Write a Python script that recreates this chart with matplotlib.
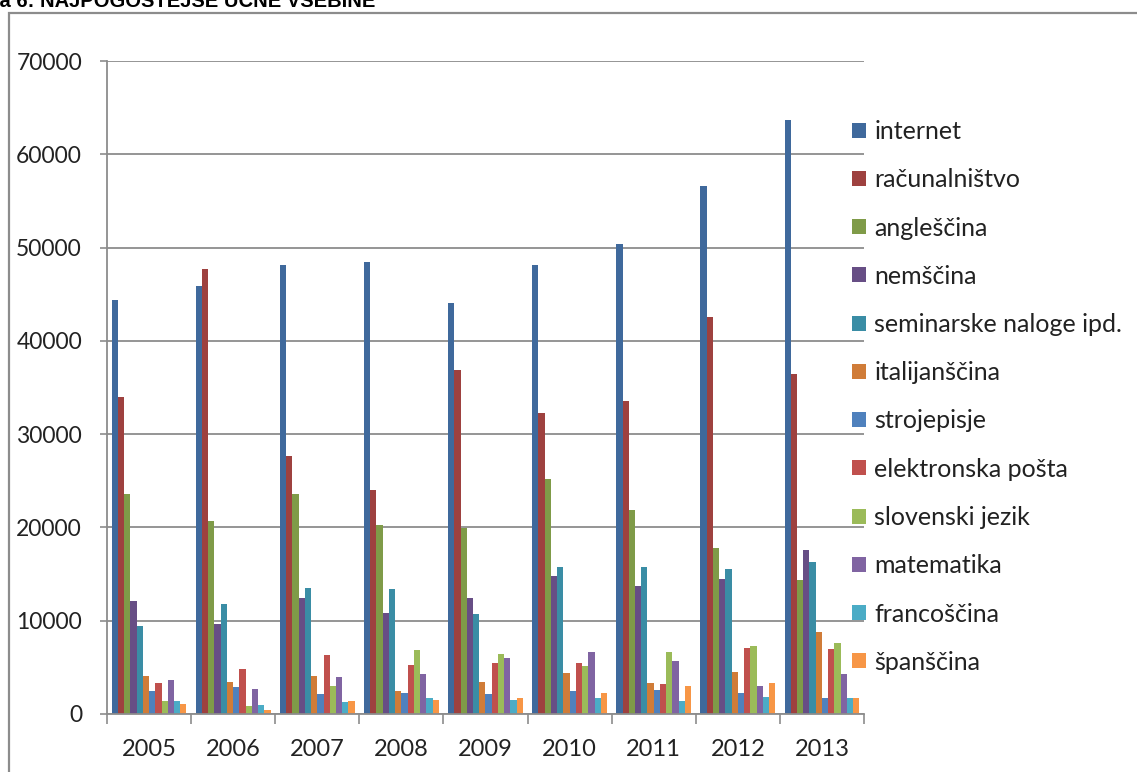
import matplotlib.pyplot as plt
import numpy as np
from matplotlib.patches import Rectangle

years = ["2005", "2006", "2007", "2008", "2009", "2010", "2011", "2012", "2013"]

internet = [44400, 45900, 48100, 48500, 44100, 48100, 50400, 56600, 63700]
racunalnistvo = [34000, 47700, 27700, 24000, 36900, 32300, 33600, 42600, 36500]
anglescina = [23600, 20700, 23600, 20300, 19900, 25200, 21900, 17800, 14400]
nemscina = [12100, 9600, 12400, 10800, 12400, 14800, 13700, 14500, 17600]
seminarske = [9400, 11800, 13500, 13400, 10700, 15800, 15800, 15500, 16300]
italijanscina = [4100, 3400, 4100, 2500, 3400, 4400, 3300, 4500, 8800]
strojepisje = [2500, 2900, 2100, 2300, 2100, 2500, 2600, 2200, 1700]
elektronska = [3300, 4800, 6300, 5200, 5500, 5500, 3200, 7100, 7000]
slovenski = [1400, 850, 3000, 6900, 6400, 5100, 6600, 7300, 7600]
matematika = [3600, 2700, 4000, 4300, 6000, 6600, 5700, 3000, 4300]
francoscina = [1400, 1000, 1250, 1700, 1500, 1700, 1400, 1800, 1700]
spanscina = [1100, 450, 1400, 1500, 1700, 2200, 3000, 3300, 1700]

labels = ["internet", "računalništvo", "angleščina", "nemščina",
          "seminarske naloge ipd.", "italijanščina", "strojepisje",
          "elektronska pošta", "slovenski jezik", "matematika",
          "francoščina", "španščina"]
series = [internet, racunalnistvo, anglescina, nemscina, seminarske,
          italijanscina, strojepisje, elektronska, slovenski, matematika,
          francoscina, spanscina]
colors = ["#3F699C", "#9E413F", "#7F9B48", "#674E85", "#3A8DA5", "#D07C38",
          "#4F81BD", "#C0504D", "#9BBB59", "#8064A2", "#4BACC6", "#F79646"]

W, H = 1137, 772
fig = plt.figure(figsize=(W / 100, H / 100), dpi=100)
fig.patch.set_facecolor("white")

# chart frame (cut off at right and bottom)
frame = Rectangle((9 / W, -0.1), 1.2, (H - 13) / H + 0.1, transform=fig.transFigure,
                  fill=False, edgecolor="#8c8c8c", linewidth=1.6)
fig.add_artist(frame)

# title, cut off at the top like in the source
fig.text(375 / W, (H - 7) / H, "Slika 6: NAJPOGOSTEJŠE UČNE VSEBINE", ha="right",
         va="baseline", fontsize=14.5, fontweight="bold", family="Liberation Sans")

ax = fig.add_axes([107 / W, (H - 714) / H, (864 - 107) / W, (714 - 61) / H])

x = np.arange(len(years))
n = len(series)
bw = 0.89 / n
for i, (vals, lab, col) in enumerate(zip(series, labels, colors)):
    ax.bar(x - 0.445 + bw * (i + 0.5), vals, bw, color=col, label=lab, linewidth=0)

ax.set_xlim(-0.5, len(years) - 0.5)
ax.set_ylim(0, 70000)
ax.set_yticks(range(0, 70001, 10000))
ax.set_xticks(x)
ax.set_xticklabels(years)
ax.set_xticks(np.arange(-0.5, len(years), 1), minor=True)
ax.tick_params(axis="x", which="major", length=0, pad=18, labelsize=17, labelcolor="#222222")
ax.tick_params(axis="x", which="minor", length=7, width=1.2, color="#8c8c8c")
ax.tick_params(axis="y", length=5, width=1.2, color="#8c8c8c", pad=13, labelsize=16.5,
               labelcolor="#222222")
for lbl in ax.get_xticklabels() + ax.get_yticklabels():
    lbl.set_family("Lato")

ax.yaxis.grid(True, color="#8c8c8c", linewidth=1.3)
ax.set_axisbelow(True)
for s in ["top", "right"]:
    ax.spines[s].set_visible(False)
ax.spines["left"].set_color("#8c8c8c")
ax.spines["left"].set_linewidth(1.3)
ax.spines["bottom"].set_color("#8c8c8c")
ax.spines["bottom"].set_linewidth(1.3)

leg = fig.legend(loc="upper left", bbox_to_anchor=(852 / W, (H - 120) / H),
                 frameon=False, prop={"family": "Lato", "size": 18},
                 handlelength=0.55, handleheight=0.55, handletextpad=0.35,
                 labelspacing=1.01, borderaxespad=0, borderpad=0)
for t in leg.get_texts():
    t.set_color("#222222")

fig.savefig("out.png", dpi=100)
